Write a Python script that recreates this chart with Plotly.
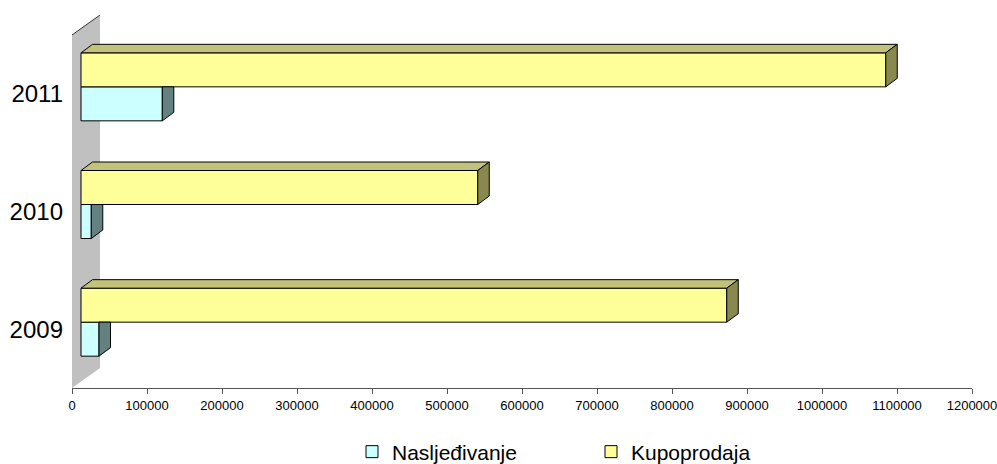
import plotly.graph_objects as go

# ---------------- data ----------------
years = ["2009", "2010", "2011"]
naslijedivanje = [24000, 13700, 108400]
kupoprodaja = [861000, 529000, 1073000]
x_tick_values = list(range(0, 1200001, 100000))
series_names = ["Nasljeđivanje", "Kupoprodaja"]

# ---------------- geometry / style ----------------
W, H = 997, 464
L, R, T, B = 72, 25, 12, 76
plot_w = W - L - R
plot_h = H - T - B
X_MAX = 1200000
Y_MIN = -0.5
unit_px = 353.0 / 3
Y_MAX = Y_MIN + plot_h / unit_px
px_x = X_MAX / plot_w          # data units per pixel (x)
px_y = 1.0 / unit_px           # data units per pixel (y)

front_dx, front_dy = 9 * px_x, 7 * px_y
depth_dx, depth_dy = 11.5 * px_x, 8.5 * px_y
bar_h = 34 * px_y
wall_dx, wall_dy = 28 * px_x, 20 * px_y

FONT = "Liberation Sans, Arial, sans-serif"
c_n_front, c_n_side = "#CCFFFF", "#638181"
c_k_front, c_k_top, c_k_side = "#FFFF99", "#C2C27A", "#88884F"
EDGE = "#000000"

cats = list(range(len(years)))
k_y = [c + front_dy + bar_h / 2 for c in cats]
n_y = [c + front_dy - bar_h / 2 for c in cats]

fig = go.Figure()

# front faces (bars)
fig.add_trace(go.Bar(
    y=n_y, x=naslijedivanje, base=front_dx, orientation="h", width=bar_h,
    name=series_names[0], marker=dict(color=c_n_front, line=dict(color=EDGE, width=1)),
    hoverinfo="skip"))
fig.add_trace(go.Bar(
    y=k_y, x=kupoprodaja, base=front_dx, orientation="h", width=bar_h,
    name=series_names[1], marker=dict(color=c_k_front, line=dict(color=EDGE, width=1)),
    hoverinfo="skip"))


def poly_trace(xs, ys, color):
    return go.Scatter(x=xs, y=ys, mode="lines", fill="toself", fillcolor=color,
                      line=dict(color=EDGE, width=1), showlegend=False, hoverinfo="skip")


# side faces of Nasljeđivanje (visible part below Kupoprodaja)
xs, ys = [], []
for yc, v in zip(n_y, naslijedivanje):
    x1 = front_dx + v
    yt, yb = yc + bar_h / 2, yc - bar_h / 2
    xs += [x1, x1 + depth_dx, x1 + depth_dx, x1, x1, None]
    ys += [yt, yt, yb + depth_dy, yb, yt, None]
fig.add_trace(poly_trace(xs, ys, c_n_side))

# top faces of Kupoprodaja
xs, ys = [], []
for yc, v in zip(k_y, kupoprodaja):
    x0, x1 = front_dx, front_dx + v
    yt = yc + bar_h / 2
    xs += [x0, x0 + depth_dx, x1 + depth_dx, x1, x0, None]
    ys += [yt, yt + depth_dy, yt + depth_dy, yt, yt, None]
fig.add_trace(poly_trace(xs, ys, c_k_top))

# side faces of Kupoprodaja
xs, ys = [], []
for yc, v in zip(k_y, kupoprodaja):
    x1 = front_dx + v
    yt, yb = yc + bar_h / 2, yc - bar_h / 2
    xs += [x1, x1 + depth_dx, x1 + depth_dx, x1, x1, None]
    ys += [yt, yt + depth_dy, yb + depth_dy, yb, yt, None]
fig.add_trace(poly_trace(xs, ys, c_k_side))

# back/side wall
y_lo, y_hi = Y_MIN, len(years) - 0.5
shapes = [
    dict(type="path", xref="x", yref="y", layer="below",
         path=f"M 0,{y_lo} L 0,{y_hi} L {wall_dx},{y_hi + wall_dy} L {wall_dx},{y_lo + wall_dy} Z",
         fillcolor="#C0C0C0", line=dict(width=0)),
    dict(type="line", xref="x", yref="y", layer="below",
         x0=0, y0=y_hi, x1=wall_dx, y1=y_hi + wall_dy,
         line=dict(color="#333333", width=1)),
]

fig.update_layout(
    width=W, height=H,
    margin=dict(l=L, r=R, t=T, b=B, pad=0, autoexpand=False),
    paper_bgcolor="white", plot_bgcolor="white",
    barmode="overlay",
    font=dict(family=FONT, color="black"),
    shapes=shapes,
    showlegend=True,
    legend=dict(orientation="h", xref="container", yref="container",
                x=352 / W, xanchor="left",
                y=1 - 452 / H, yanchor="middle",
                font=dict(size=21, family=FONT), entrywidth=194, entrywidthmode="pixels",
                traceorder="normal", bgcolor="rgba(0,0,0,0)"),
    xaxis=dict(range=[0, X_MAX], tickvals=x_tick_values,
               ticktext=[str(v) for v in x_tick_values],
               showgrid=False, zeroline=False, showline=True, linecolor="#555555",
               linewidth=1, ticks="outside", ticklen=5, tickcolor="#555555",
               tickfont=dict(size=13, family=FONT), fixedrange=True,
               automargin=False, ticklabeloverflow="allow"),
    yaxis=dict(range=[Y_MIN, Y_MAX], tickvals=cats, ticktext=years,
               showgrid=False, zeroline=False, showline=False, ticks="",
               tickfont=dict(size=24, family=FONT), ticklabelstandoff=8,
               fixedrange=True, automargin=False),
)

fig.write_html(
    "out.html",
    config={"displayModeBar": False},
    post_script="document.body.style.margin='0';document.body.style.overflow='hidden';",
)
